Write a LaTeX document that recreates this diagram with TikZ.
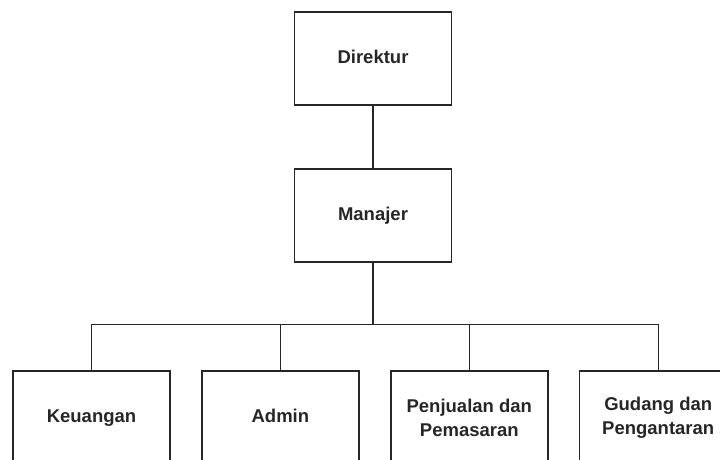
\documentclass[tikz,border=0pt]{standalone}
\usepackage{fontspec}
\setmainfont{Liberation Sans}
\usetikzlibrary{positioning}
\tikzset{%
jabatan/.style={draw=black!85,rectangle,line width=1.4pt,minimum width=157pt,minimum height=93pt,
  inner sep=2pt,align=center,font=\fontsize{18.5}{24}\selectfont\bfseries,text=black!85},
satubaris/.style={text height=13.3pt,text depth=3.9pt},
garis/.style={draw=black!85,line width=1.4pt}
}
\begin{document}
\begin{tikzpicture}[x=1pt,y=1pt]
    \clip (0,0) rectangle (720,-459);

    \node[jabatan,satubaris] (dir) at (373,-58.5) {Direktur};
    \node[jabatan,satubaris] (man) [below=62.7pt of dir] {Manajer};
    \node[jabatan,satubaris] (keu) at (91.5,-417.5) {Keuangan};
    \node[jabatan,satubaris] (adm) [right=30.5pt of keu] {Admin};
    \node[jabatan] (pen) [right=30.5pt of adm] {Penjualan dan\\Pemasaran};
    \node[jabatan] (gud) [right=30.5pt of pen] {Gudang dan\\Pengantaran};
    \coordinate (bus) at (373,-324.5);

    \path[garis] (dir) edge (man)
                 (man) edge (bus);
    \draw[garis] (bus) -| (keu.north)
                 (bus) -| (adm.north)
                 (bus) -| (pen.north)
                 (bus) -| (gud.north);
  \end{tikzpicture}
\end{document}
